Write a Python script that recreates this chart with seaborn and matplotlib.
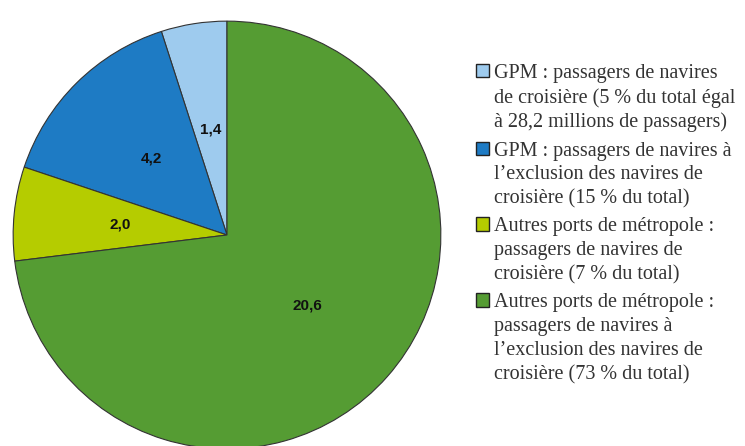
import matplotlib
matplotlib.use("Agg")
import matplotlib.pyplot as plt
import seaborn as sns

# passenger totals (millions), counterclockwise from 12 o'clock
values = [1.4, 4.2, 2.0, 20.6]
colors = ["#9ecbee", "#1e7bc4", "#b5cc00", "#559c33"]
legend_labels = [
    "GPM : passagers de navires\nde croisière (5 % du total égal\nà 28,2 millions de passagers)",
    "GPM : passagers de navires à\nl’exclusion des navires de\ncroisière (15 % du total)",
    "Autres ports de métropole :\npassagers de navires de\ncroisière (7 % du total)",
    "Autres ports de métropole :\npassagers de navires à\nl’exclusion des navires de\ncroisière (73 % du total)",
]

sns.set_theme(style="white")
plt.rcParams["font.family"] = ["Liberation Sans", "DejaVu Sans"]

W, H = 745, 446
fig = plt.figure(figsize=(W / 100, H / 100), dpi=100)
fig.patch.set_facecolor("white")

# pie centre ~(227, 235) px, radius ~216 px
r = 216
cx, cy = 227, 235
ax = fig.add_axes([(cx - r) / W, (H - cy - r) / H, 2 * r / W, 2 * r / H])

total = sum(values)
wedges, texts, autotexts = ax.pie(
    values, colors=colors, startangle=90, counterclock=True,
    autopct=lambda p: f"{p * total / 100:.1f}".replace(".", ","),
    pctdistance=0.5,
    wedgeprops={"edgecolor": "#333333", "linewidth": 0.8},
    textprops={"fontsize": 11, "fontweight": "bold", "color": "#111111"},
)
ax.set_xlim(-1.01, 1.01)
ax.set_ylim(-1.01, 1.01)
ax.axis("off")

leg = fig.legend(
    wedges, legend_labels, loc="upper left",
    bbox_to_anchor=(476 / W, 1 - 64 / H),
    frameon=False,
    prop={"family": ["Liberation Serif"], "size": 14.5},
    handlelength=0.65, handleheight=0.65, handletextpad=0.25,
    labelspacing=0.45, borderpad=0, borderaxespad=0,
)
for h in leg.legend_handles:
    h.set_edgecolor("#222222")
    h.set_linewidth(1.0)
for col in leg._legend_handle_box.get_children():
    for item in col.get_children():
        item.align = "top"
for t in leg.get_texts():
    t.set_color("#333333")
    t.set_linespacing(1.34)

fig.savefig("out.png", dpi=100)
